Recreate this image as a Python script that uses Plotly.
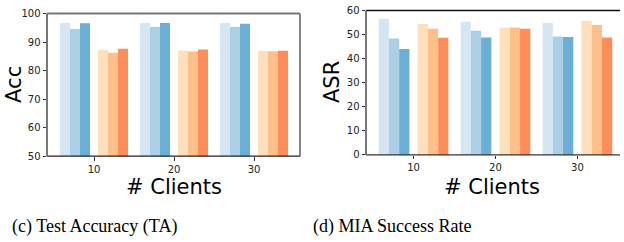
import plotly.graph_objects as go

clients = ["10", "20", "30"]

# Test accuracy (TA) - six series per client count
acc_blue_light = [96.7, 96.7, 96.7]
acc_blue_mid = [94.6, 95.3, 95.3]
acc_blue_dark = [96.6, 96.7, 96.4]
acc_orange_light = [87.3, 87.1, 86.9]
acc_orange_mid = [86.3, 86.7, 86.8]
acc_orange_dark = [87.7, 87.4, 87.0]

# MIA success rate (ASR)
asr_blue_light = [56.6, 55.3, 54.8]
asr_blue_mid = [48.4, 51.6, 49.2]
asr_blue_dark = [44.0, 48.8, 49.0]
asr_orange_light = [54.4, 52.8, 55.7]
asr_orange_mid = [52.4, 52.9, 54.0]
asr_orange_dark = [48.7, 52.4, 48.8]

acc_ticks = [50, 60, 70, 80, 90, 100]
asr_ticks = [0, 10, 20, 30, 40, 50, 60]

colors = ["#d5e6f3", "#accfe6", "#6baed6", "#fee0bd", "#fdc08b", "#fd8d59"]
offsets = [-0.3625, -0.2375, -0.1125, 0.1125, 0.2375, 0.3625]
bar_w = 0.125

acc_series = [acc_blue_light, acc_blue_mid, acc_blue_dark,
              acc_orange_light, acc_orange_mid, acc_orange_dark]
asr_series = [asr_blue_light, asr_blue_mid, asr_blue_dark,
              asr_orange_light, asr_orange_mid, asr_orange_dark]

fig = go.Figure()
idx = list(range(len(clients)))
for s, vals in enumerate(acc_series):
    fig.add_trace(go.Bar(x=[i + offsets[s] for i in idx], y=vals, width=bar_w,
                         marker=dict(color=colors[s], line=dict(width=0)),
                         xaxis="x", yaxis="y", showlegend=False))
for s, vals in enumerate(asr_series):
    fig.add_trace(go.Bar(x=[i + offsets[s] for i in idx], y=vals, width=bar_w,
                         marker=dict(color=colors[s], line=dict(width=0)),
                         xaxis="x2", yaxis="y2", showlegend=False))

W, H = 624, 242
d1x = [47 / W, 300 / W]
d1y = [1 - 158 / H, 1 - 8 / H]
d2x = [366 / W, 620 / W]
d2y = [1 - 156.7 / H, 1 - 4.7 / H]

tickfont = dict(family="DejaVu Sans", size=10, color="#222")
common_x = dict(tickvals=idx, ticktext=clients, ticks="outside", ticklen=3.5,
                tickcolor="#333", tickfont=tickfont, showgrid=False, zeroline=False,
                showline=False)
common_y = dict(ticks="outside", ticklen=3.5, tickcolor="#333", tickfont=tickfont,
                showgrid=False, zeroline=False, showline=False)

fig.update_layout(
    width=W, height=H, margin=dict(l=0, r=0, t=0, b=0),
    paper_bgcolor="white", plot_bgcolor="white", barmode="overlay",
    xaxis=dict(domain=d1x, range=[-0.5875, 2.575], anchor="y", **common_x),
    yaxis=dict(domain=d1y, range=[50, 100], tickvals=acc_ticks, anchor="x", **common_y),
    xaxis2=dict(domain=d2x, range=[-0.58, 2.52], anchor="y2", **common_x),
    yaxis2=dict(domain=d2y, range=[0, 60], tickvals=asr_ticks, anchor="x2", **common_y),
)

def spine(xr, yr, x0, y0, x1, y1, color, width):
    fig.add_shape(type="line", xref=xr, yref=yr, x0=x0, y0=y0, x1=x1, y1=y1,
                  line=dict(color=color, width=width), layer="above")

# left panel frame
spine("x domain", "y domain", 0, 0, 1, 0, "#222", 1.3)
spine("x domain", "y domain", 1, 0, 1, 1, "#444", 1.3)
spine("x domain", "y domain", 0, 1, 1, 1, "#777", 2)
spine("x domain", "y domain", 0, 0, 0, 1, "#777", 2)
# right panel frame
spine("x2 domain", "y2 domain", 0, 0, 1, 0, "#333", 1.3)
spine("x2 domain", "y2 domain", 0, 1, 1, 1, "#111", 1.5)
spine("x2 domain", "y2 domain", 0, 0, 0, 1, "#777", 2)

title_font = dict(family="DejaVu Sans", size=21, color="black")
cap_font = dict(family="Liberation Serif", size=18, color="black")

def ann(text, x, y, font, angle=0, xanchor="center"):
    fig.add_annotation(text=text, x=x / W, y=1 - y / H, xref="paper", yref="paper",
                       showarrow=False, font=font, textangle=angle,
                       xanchor=xanchor, yanchor="middle")

ann("Acc", 0, 83, title_font, -90, xanchor="left")
ann("ASR", 332, 80, title_font, -90)
ann("# Clients", 174, 190, title_font)
ann("# Clients", 492, 190, title_font)
ann("(c) Test Accuracy (TA)", 94, 232, cap_font)
ann("(d) MIA Success Rate", 392, 232, cap_font)

fig.write_html("out.html", config={"displayModeBar": False},
               post_script="document.body.style.margin='0';document.body.style.overflow='hidden';")
